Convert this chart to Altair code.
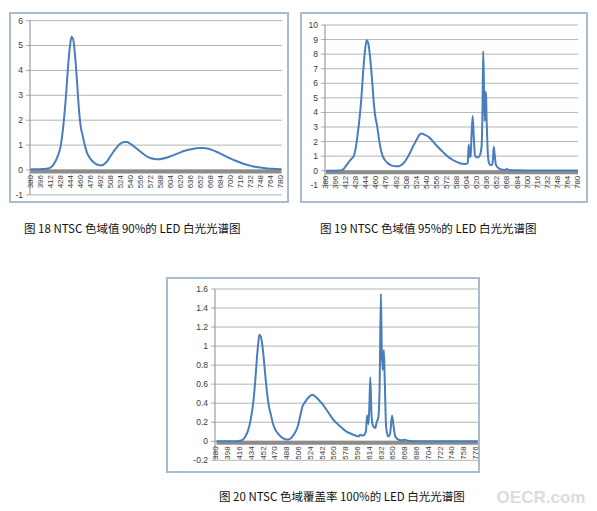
import altair as alt
import pandas as pd

# ---------------- data ----------------
wl1 = [380, 390, 400, 408, 412, 416, 420, 424, 428, 432, 436, 440, 443, 445.5, 448, 451, 454, 457, 460, 463,
       466, 470, 474, 478, 482, 486, 490, 494, 498, 502, 506, 510, 514, 518, 522, 526, 530, 534, 538, 542,
       548, 554, 560, 566, 572, 578, 584, 590, 596, 602, 608, 614, 620, 626, 632, 638, 644, 650, 656, 662,
       668, 674, 680, 686, 692, 698, 704, 710, 716, 722, 728, 734, 740, 746, 752, 758, 764, 770, 780]
v1 = [0.03, 0.03, 0.04, 0.06, 0.1, 0.2, 0.36, 0.6, 0.95, 1.7, 2.8, 4.2, 5.0, 5.35, 5.25, 4.6, 3.6, 2.5, 1.75, 1.4,
      1.05, 0.7, 0.5, 0.37, 0.28, 0.22, 0.19, 0.19, 0.25, 0.35, 0.5, 0.65, 0.8, 0.92, 1.03, 1.1, 1.12, 1.12, 1.07, 1.0,
      0.88, 0.76, 0.64, 0.54, 0.47, 0.44, 0.43, 0.45, 0.49, 0.54, 0.6, 0.66, 0.72, 0.77, 0.81, 0.84, 0.87, 0.88, 0.88, 0.86,
      0.82, 0.76, 0.69, 0.62, 0.54, 0.47, 0.4, 0.34, 0.28, 0.23, 0.19, 0.15, 0.12, 0.1, 0.08, 0.06, 0.05, 0.04, 0.03]

wl2 = [380, 390, 400, 405, 408, 412, 416, 420, 424, 427, 430, 433, 436, 439, 442, 444.5, 447, 450, 453, 456,
       458, 461, 464, 467, 470, 474, 478, 482, 486, 490, 494, 498, 502, 506, 510, 514, 518, 522, 526, 529,
       532, 536, 540, 544, 548, 552, 556, 560, 564, 568, 572, 576, 580, 584, 588, 592, 596, 600, 603, 605,
       606.5, 608, 609.5, 611, 612.8, 614.5, 616.5, 619, 622, 625, 627, 628.5, 629.5, 630.8, 631.8, 633, 634, 635, 636.5, 638.5,
       641, 643.5, 645, 646.3, 647.5, 649.5, 652, 656, 660, 664, 667, 670, 680, 700, 720, 740, 760, 780]
v2 = [0.0, 0.0, 0.01, 0.04, 0.12, 0.35, 0.58, 0.8, 1.0, 1.5, 2.4, 3.5, 4.9, 6.8, 8.3, 8.95, 8.75, 7.8, 6.3, 4.6,
      3.8, 3.1, 2.2, 1.45, 1.0, 0.7, 0.52, 0.4, 0.33, 0.3, 0.3, 0.35, 0.48, 0.68, 0.95, 1.28, 1.65, 1.98, 2.3, 2.5,
      2.55, 2.48, 2.4, 2.27, 2.1, 1.9, 1.7, 1.52, 1.35, 1.18, 1.02, 0.88, 0.77, 0.67, 0.6, 0.53, 0.47, 0.46, 0.48, 0.55,
      1.8, 0.95, 1.0, 2.4, 3.75, 2.4, 1.05, 0.92, 0.93, 1.15, 1.7, 4.5, 8.2, 5.8, 3.4, 5.4, 5.2, 3.4, 1.5, 0.55,
      0.38, 0.42, 0.8, 1.65, 1.2, 0.45, 0.25, 0.12, 0.06, 0.05, 0.12, 0.05, 0.03, 0.02, 0.02, 0.01, 0.01, 0.01]

wl3 = [380, 400, 410, 416, 420, 424, 428, 432, 436, 439, 442, 444, 445.5, 448, 451, 454, 457, 460, 463, 466,
       470, 474, 478, 482, 486, 490, 494, 498, 502, 505, 508, 511, 514, 518, 522, 526, 530, 534, 538, 542,
       546, 550, 554, 558, 562, 566, 570, 574, 578, 582, 586, 590, 594, 597, 599, 602, 605, 608, 610, 612,
       613.5, 614.8, 616.5, 618.5, 620.5, 622.5, 624.5, 627, 629, 631, 632.3, 633.8, 635.5, 637, 639, 642, 645, 648, 650.5, 653,
       657, 662, 668, 672, 680, 700, 720, 740, 760, 779]
v3 = [0.0, 0.0, 0.0, 0.005, 0.015, 0.05, 0.11, 0.22, 0.4, 0.62, 0.9, 1.05, 1.12, 1.09, 0.95, 0.73, 0.52, 0.37, 0.28, 0.19,
      0.12, 0.08, 0.05, 0.03, 0.02, 0.02, 0.035, 0.07, 0.12, 0.18, 0.27, 0.36, 0.4, 0.44, 0.47, 0.49, 0.475, 0.45, 0.42, 0.39,
      0.35, 0.31, 0.27, 0.23, 0.2, 0.175, 0.15, 0.125, 0.105, 0.09, 0.078, 0.066, 0.056, 0.05, 0.07, 0.06, 0.065, 0.1, 0.27, 0.18,
      0.4, 0.67, 0.3, 0.17, 0.15, 0.14, 0.2, 0.25, 0.55, 1.55, 0.97, 0.75, 0.96, 0.6, 0.15, 0.05, 0.08, 0.27, 0.15, 0.05,
      0.02, 0.01, 0.015, 0.005, 0.0, 0.0, 0.0, 0.0, 0.0, 0.0]

yt1 = [-1, 0, 1, 2, 3, 4, 5, 6]
yt2 = [-1, 0, 1, 2, 3, 4, 5, 6, 7, 8, 9, 10]
yt3 = [-0.2, 0, 0.2, 0.4, 0.6, 0.8, 1, 1.2, 1.4, 1.6]
yl3 = ["-0.2", "0", "0.2", "0.4", "0.6", "0.8", "1", "1.2", "1.4", "1.6"]
xt12 = list(range(380, 781, 16))
xt3 = list(range(380, 777, 18))

cap1 = "图 18 NTSC 色域值 90%的 LED 白光光谱图"
cap2 = "图 19 NTSC 色域值 95%的 LED 白光光谱图"
cap3 = "图 20 NTSC 色域覆盖率 100%的 LED 白光光谱图"
watermark = "OECR.com"

LINE = "#4a7ebb"
GRID = "#b5b5b5"
FRAME = "#a9bccf"
LBL = "#3a3a3a"
CAPFONT = "Noto Sans CJK SC"


def panel(wl, vals, W, H, xdom, ydom, yticks, ylabels, xticks, gx0, gx1, ax0, ax1, caption, cdx, cdy, extra=None):
    xs = alt.Scale(domain=xdom, nice=False, zero=False)
    ys = alt.Scale(domain=ydom, nice=False, zero=False)
    ymin, ymax = min(yticks), max(yticks)

    gdf = pd.DataFrame({"y": yticks, "lab": ylabels, "x0": gx0, "x1": gx1})
    grid = alt.Chart(gdf).mark_rule(color=GRID, strokeWidth=1).encode(
        x=alt.X("x0:Q", scale=xs, axis=None), x2="x1:Q",
        y=alt.Y("y:Q", scale=ys, axis=None))
    ticks = alt.Chart(gdf).mark_tick(orient="horizontal", size=4, thickness=1, color="#8a8a8a", xOffset=-2).encode(
        x=alt.X("x0:Q", scale=xs, axis=None), y=alt.Y("y:Q", scale=ys, axis=None))
    ylab = alt.Chart(gdf).mark_text(align="right", baseline="middle", dx=-7, fontSize=8.5,
                                    font="Liberation Sans", color=LBL).encode(
        x=alt.X("x0:Q", scale=xs, axis=None), y=alt.Y("y:Q", scale=ys, axis=None), text="lab:N")

    adf = pd.DataFrame({"x": [gx0], "y0": [ymin], "y1": [ymax], "a0": [ax0], "a1": [ax1], "z": [0]})
    yaxis = alt.Chart(adf).mark_rule(color="#8a8a8a", strokeWidth=1).encode(
        x=alt.X("x:Q", scale=xs, axis=None), y=alt.Y("y0:Q", scale=ys, axis=None), y2="y1:Q")
    band = alt.Chart(adf).mark_rule(color="#8c8c8c", strokeWidth=4, yOffset=1.5).encode(
        x=alt.X("a0:Q", scale=xs, axis=None), x2="a1:Q", y=alt.Y("z:Q", scale=ys, axis=None))

    xdf = pd.DataFrame({"x": xticks, "lab": [str(v) for v in xticks], "z": 0})
    xlab = alt.Chart(xdf).mark_text(angle=270, align="right", baseline="middle", dx=-5, fontSize=8,
                                    font="Liberation Sans", color=LBL).encode(
        x=alt.X("x:Q", scale=xs, axis=None), y=alt.Y("z:Q", scale=ys, axis=None), text="lab:N")

    ldf = pd.DataFrame({"wl": wl, "v": vals})
    line = alt.Chart(ldf).mark_line(color=LINE, strokeWidth=2, interpolate="monotone").encode(
        x=alt.X("wl:Q", scale=xs, axis=None), y=alt.Y("v:Q", scale=ys, axis=None))

    cdf = pd.DataFrame({"t": [caption]})
    cap = alt.Chart(cdf).mark_text(align="left", baseline="middle", fontSize=11.5, font=CAPFONT,
                                   color="#111111").encode(
        x=alt.value(cdx), y=alt.value(cdy), text="t:N")

    layers = [grid, ticks, ylab, yaxis, xlab, band, line, cap]
    if extra is not None:
        layers.append(extra)
    return alt.layer(*layers).properties(
        width=W, height=H,
        view=alt.ViewBackground(stroke=FRAME, strokeWidth=2))


p1 = panel(wl1, v1, 278, 189, [347.33, 790.36], [-1.285, 6.305], yt1, [str(v) for v in yt1], xt12,
           379.2, 780.8, 380, 780, cap1, 14, 217)
p2 = panel(wl2, v2, 286, 189, [340.32, 794.29], [-2.148, 10.824], yt2, [str(v) for v in yt2], xt12,
           378.4, 780, 380, 780, cap2, 19, 217)

wm = alt.Chart(pd.DataFrame({"t": [watermark]})).mark_text(
    align="center", baseline="middle", fontSize=17, fontWeight="bold", font="Liberation Sans",
    color="#dcdcdc").encode(x=alt.value(374), y=alt.value(220), text="t:N")

p3 = panel(wl3, v3, 312, 194, [304.43, 780.77], [-0.3225, 1.7153], yt3, yl3, xt3,
           377.7, 779.2, 380, 779, cap3, 52, 220, extra=wm)

spacer = alt.Chart(pd.DataFrame({"a": [0]})).mark_point(opacity=0, size=1).encode(
    x=alt.value(50), y=alt.value(100)).properties(
    width=157, height=194, view=alt.ViewBackground(strokeOpacity=0, strokeWidth=0))

row1 = alt.hconcat(p1, p2, spacing=13, bounds="flush")
row2 = alt.hconcat(spacer, p3, spacing=0, bounds="flush")
chart = alt.vconcat(row1, row2, spacing=40).properties(
    padding={"left": 9, "top": 12, "right": 0, "bottom": 0},
    background="white")

chart.save("out.html", embed_options={"renderer": "svg", "actions": False})
